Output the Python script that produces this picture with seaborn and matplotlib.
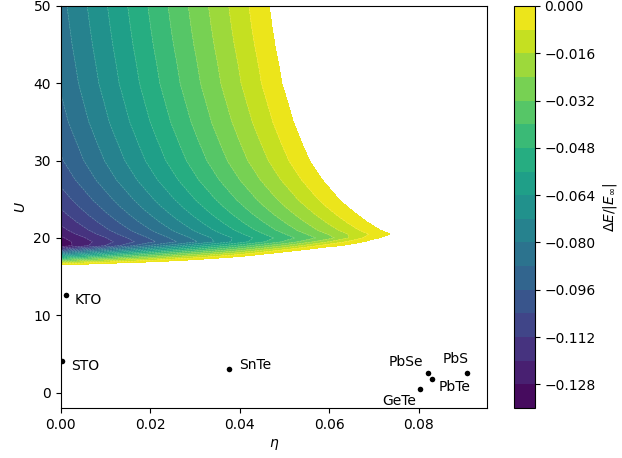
import numpy as np
import pandas as pd
import matplotlib
matplotlib.use("Agg")
import matplotlib.pyplot as plt
import seaborn as sns

# ---- data ----
eta_grid = [0.00, 0.01, 0.02, 0.03, 0.04, 0.05, 0.06, 0.07, 0.08]
U_grid = [16.0, 16.5, 17.0, 17.5, 18.0, 18.5, 19.0, 19.5, 20.0, 20.5,
          21.0, 22.0, 23.0, 24.0, 25.0, 27.5, 30.0, 32.5, 35.0, 37.5,
          40.0, 42.5, 45.0, 47.5, 50.0]
# dE/|E_inf| on the (U, eta) grid; positive = outside the valid region (not drawn)
dE_grid = [
    [0.028, 0.034, 0.037, 0.043, 0.051, 0.065, 0.070, 0.070, 0.080],          # 16.0
    [0.000, 0.010, 0.017, 0.025, 0.035, 0.050, 0.060, 0.060, 0.070],          # 16.5
    [-0.028, -0.015, -0.004, 0.007, 0.019, 0.035, 0.050, 0.045, 0.060],       # 17.0
    [-0.056, -0.039, -0.025, -0.011, 0.003, 0.021, 0.036, 0.035, 0.050],      # 17.5
    [-0.083, -0.063, -0.045, -0.029, -0.013, 0.006, 0.023, 0.025, 0.040],     # 18.0
    [-0.111, -0.087, -0.066, -0.047, -0.029, -0.009, 0.010, 0.015, 0.030],    # 18.5
    [-0.1335, -0.112, -0.087, -0.065, -0.045, -0.024, -0.003, 0.008, 0.025],  # 19.0
    [-0.132, -0.115, -0.098, -0.081, -0.060, -0.039, -0.016, 0.005, 0.020],   # 19.5
    [-0.1295, -0.1124, -0.0953, -0.0782, -0.0611, -0.0440, -0.0269, -0.002, 0.015],  # 20.0
    [-0.1258, -0.1087, -0.0916, -0.0745, -0.0574, -0.0403, -0.0232, -0.0061, 0.0110],  # 20.5
    [-0.1228, -0.1056, -0.0884, -0.0712, -0.0540, -0.0368, -0.0196, -0.0024, 0.0148],  # 21
    [-0.1184, -0.1012, -0.0839, -0.0667, -0.0494, -0.0322, -0.0149, 0.0024, 0.0196],   # 22
    [-0.1146, -0.0973, -0.0800, -0.0627, -0.0454, -0.0281, -0.0108, 0.0065, 0.0238],   # 23
    [-0.1112, -0.0939, -0.0765, -0.0592, -0.0418, -0.0245, -0.0071, 0.0103, 0.0276],   # 24
    [-0.1082, -0.0908, -0.0734, -0.0560, -0.0386, -0.0212, -0.0038, 0.0136, 0.0310],   # 25
    [-0.1017, -0.0843, -0.0669, -0.0495, -0.0321, -0.0147, 0.0027, 0.0201, 0.0375],   # 27.5
    [-0.0970, -0.0796, -0.0621, -0.0447, -0.0272, -0.0098, 0.0077, 0.0252, 0.0426],   # 30
    [-0.0940, -0.0765, -0.0590, -0.0415, -0.0240, -0.0065, 0.0110, 0.0285, 0.0460],   # 32.5
    [-0.0910, -0.0735, -0.0560, -0.0385, -0.0210, -0.0035, 0.0140, 0.0315, 0.0490],   # 35
    [-0.0890, -0.0715, -0.0539, -0.0364, -0.0188, -0.0013, 0.0163, 0.0339, 0.0514],   # 37.5
    [-0.0870, -0.0694, -0.0518, -0.0342, -0.0166, 0.0010, 0.0186, 0.0362, 0.0538],    # 40
    [-0.0858, -0.0682, -0.0506, -0.0330, -0.0154, 0.0023, 0.0199, 0.0375, 0.0551],    # 42.5
    [-0.0845, -0.0669, -0.0492, -0.0316, -0.0139, 0.0038, 0.0214, 0.0391, 0.0567],    # 45
    [-0.0835, -0.0658, -0.0481, -0.0304, -0.0127, 0.0050, 0.0227, 0.0404, 0.0581],    # 47.5
    [-0.0825, -0.0648, -0.0471, -0.0294, -0.0117, 0.0060, 0.0237, 0.0414, 0.0591],    # 50
]

materials = ["KTO", "STO", "SnTe", "PbSe", "PbTe", "PbS", "GeTe"]
eta_pts = [0.0012, 0.0003, 0.0376, 0.0821, 0.0830, 0.0909, 0.0803]
U_pts = [12.57, 4.07, 3.08, 2.56, 1.79, 2.56, 0.41]

cbar_ticks = [0.000, -0.016, -0.032, -0.048, -0.064, -0.080, -0.096, -0.112, -0.128]

# ---- layout / style ----
label_offsets = {  # points, horizontal alignment
    "KTO": (6.5, -3.0, "left"),
    "STO": (6.5, -3.6, "left"),
    "SnTe": (7.0, 2.9, "left"),
    "PbSe": (-3.6, 7.9, "right"),
    "PbS": (0.7, 9.6, "right"),
    "PbTe": (4.8, -6.2, "left"),
    "GeTe": (-2.4, -8.2, "right"),
}

fig = plt.figure(figsize=(6.22, 4.58), dpi=100)
ax = fig.add_axes([0.0976, 0.1092, 0.6854, 0.8777])
cax = fig.add_axes([0.8264, 0.1092, 0.0333, 0.8777])

E, Ug = np.meshgrid(np.array(eta_grid), np.array(U_grid))
Z = np.array(dE_grid)
levels = np.linspace(-0.136, 0.0, 18)
cs = ax.contourf(E, Ug, Z, levels=levels, cmap="viridis")
# faint light seams between the filled bands, as in the reference
ax.contour(E, Ug, Z, levels=levels[1:-1], colors="white", linewidths=0.4, alpha=0.3)

df = pd.DataFrame({"material": materials, "eta": eta_pts, "U": U_pts})
sns.scatterplot(data=df, x="eta", y="U", color="black", s=16, linewidth=0, ax=ax, zorder=5)
for m, x, y in zip(materials, eta_pts, U_pts):
    dx, dy, ha = label_offsets[m]
    ax.annotate(m, (x, y), xytext=(dx, dy), textcoords="offset points",
                ha=ha, va="center", fontsize=10)

ax.set_xlim(0, 0.0953)
ax.set_ylim(-2, 50)
ax.set_xticks([0.00, 0.02, 0.04, 0.06, 0.08])
ax.set_yticks([0, 10, 20, 30, 40, 50])
ax.set_xlabel(r"$\eta$")
ax.set_ylabel(r"$U$")

cb = fig.colorbar(cs, cax=cax, ticks=cbar_ticks)
cb.set_label(r"$\Delta E/|E_\infty|$")

fig.savefig("out.png", dpi=100)
